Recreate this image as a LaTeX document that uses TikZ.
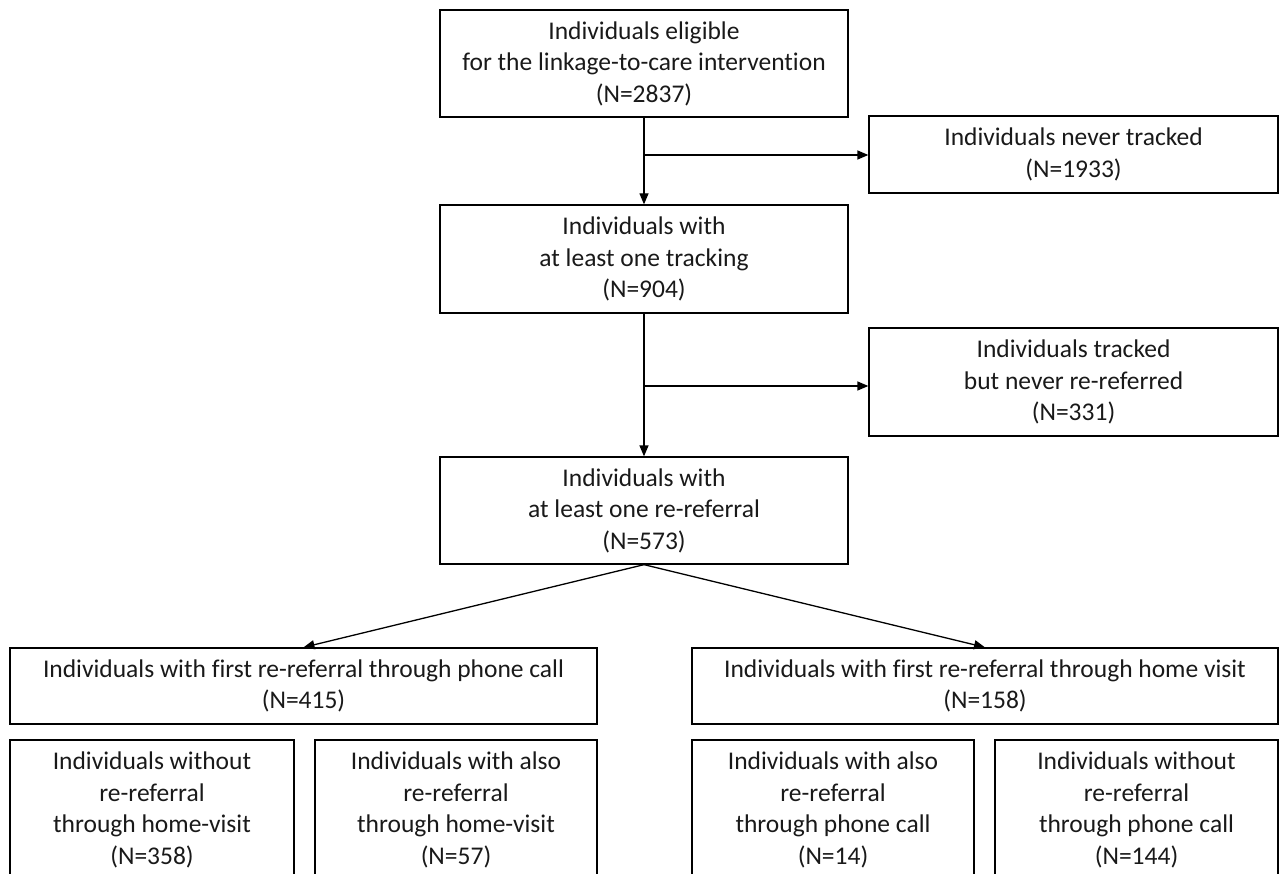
\documentclass[tikz,border=0pt]{standalone}
\usepackage{fontspec}
\setmainfont[Ligatures=NoCommon]{Carlito}
\usetikzlibrary{arrows.meta,calc}
\begin{document}
\begin{tikzpicture}[x=1pt,y=-1pt,
  box/.style={draw=black,line width=1.3pt,rectangle,inner sep=0pt,align=center,
    font=\fontsize{25.5}{31.5}\selectfont,text=black!90},
  arr/.style={line width=1.3pt,-{Triangle[length=11pt,width=9pt]}},
  ln/.style={line width=1.3pt}]
\useasboundingbox (0,0) rectangle (1281,874);
\clip (0,0) rectangle (1281,874);
\node[box,minimum width=408pt,minimum height=107pt] (b1) at (644,63.5)
  {Individuals eligible\\for the linkage-to-care intervention\\(N=2837)};
\node[box,minimum width=409pt,minimum height=77pt] (never) at (1073.5,154.5)
  {Individuals never tracked\\(N=1933)};
\node[box,minimum width=408pt,minimum height=108pt] (b2) at (644,259)
  {Individuals with\\at least one tracking\\(N=904)};
\node[box,minimum width=409pt,minimum height=108pt] (tracked) at (1073.5,382)
  {Individuals tracked\\but never re-referred\\(N=331)};
\node[box,minimum width=408pt,minimum height=107pt] (b3) at (644,510.5)
  {Individuals with\\at least one re-referral\\(N=573)};
\node[box,minimum width=587pt,minimum height=76pt] (phone) at (303.5,686)
  {Individuals with first re-referral through phone call\\(N=415)};
\node[box,minimum width=586pt,minimum height=76pt] (home) at (985,686)
  {Individuals with first re-referral through home visit\\(N=158)};
\node[box,minimum width=284pt,minimum height=140pt] (p1) at (152,810)
  {Individuals without\\re-referral\\through home-visit\\(N=358)};
\node[box,minimum width=282pt,minimum height=140pt] (p2) at (456,810)
  {Individuals with also\\re-referral\\through home-visit\\(N=57)};
\node[box,minimum width=282pt,minimum height=140pt] (h1) at (833,810)
  {Individuals with also\\re-referral\\through phone call\\(N=14)};
\node[box,minimum width=283pt,minimum height=140pt] (h2) at (1136.5,810)
  {Individuals without\\re-referral\\through phone call\\(N=144)};
\draw[arr] (b1.south) -- (b2.north);
\draw[arr] (b2.south) -- (b3.north);
\coordinate (j1) at (644,155);
\coordinate (j2) at (644,386);
\draw[arr] (j1) -- (j1 -| never.west);
\draw[arr] (j2) -- (j2 -| tracked.west);
\draw[arr] (b3.south) -- (phone.north);
\draw[arr] (b3.south) -- (home.north);
\end{tikzpicture}
\end{document}
